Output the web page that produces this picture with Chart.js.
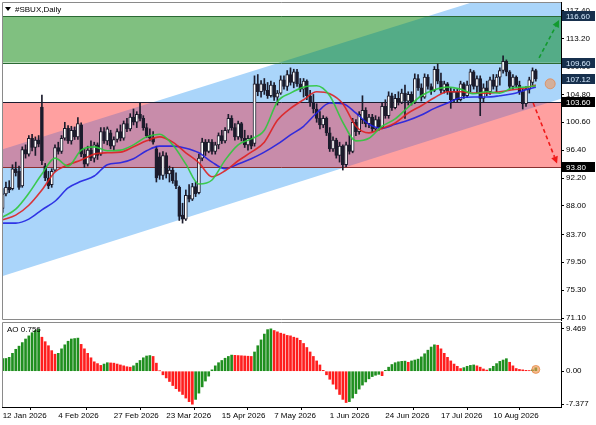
<!DOCTYPE html>
<html><head><meta charset="utf-8">
<script src="https://cdn.jsdelivr.net/npm/chart.js@4/dist/chart.umd.min.js"></script>
<style>
html,body{margin:0;padding:0;background:#fff;}
body{width:596px;height:425px;overflow:hidden;position:relative;}
canvas{position:absolute;left:0;}
</style></head>
<body>
<canvas id="main" width="596" height="322" style="top:0;width:596px;height:322px"></canvas>
<canvas id="ao" width="596" height="104" style="top:321px;width:596px;height:104px"></canvas>
<script>
// ---------- data ----------
const symbolTitle = '#SBUX,Daily';
const dateTickIdx = [0,17,34,50,67,83,100,117,134,150];
const dateTickLabels = ['12 Jan 2026','4 Feb 2026','27 Feb 2026','23 Mar 2026','15 Apr 2026','7 May 2026','1 Jun 2026','24 Jun 2026','17 Jul 2026','10 Aug 2026'];
const priceTicks = [117.40,113.20,109.00,104.80,100.60,96.40,92.20,88.00,83.70,79.50,75.30,71.10];
const aoTicks = [9.469, 0, -7.377];
const aoLabel = 'AO 0.756';

const openP = [87.6,89.8,90.8,90.6,93.6,93.2,91.0,96.5,95.8,98.2,96.8,97.9,102.9,94.0,92.2,91.2,93.4,96.8,96.2,98.2,
99.7,97.8,99.4,98.4,100.2,95.8,94.3,96.4,95.2,97.2,95.8,99.2,97.8,99.0,97.0,98.0,99.2,98.2,100.4,99.6,
101.4,100.6,101.8,101.2,99.8,98.6,98.2,96.6,95.4,92.6,95.6,92.8,93.4,91.8,90.8,86.6,86.0,89.6,89.0,90.9,
90.0,95.2,97.6,96.2,97.6,96.2,97.2,98.6,97.8,99.4,101.2,99.8,98.4,100.4,98.2,97.2,98.2,97.4,106.4,105.2,
106.4,105.4,104.6,106.2,104.4,105.0,107.0,106.0,107.8,106.6,108.2,106.4,105.6,106.8,104.6,103.6,102.6,101.2,100.2,101.2,
99.0,96.6,97.9,95.6,97.0,94.2,97.2,96.2,100.6,99.2,101.0,102.4,100.4,101.4,99.6,101.0,99.8,103.0,101.6,104.6,
102.8,104.2,103.6,105.0,103.8,104.8,103.6,107.2,105.8,104.4,107.4,106.0,105.4,108.6,106.8,105.4,106.4,105.2,104.0,105.2,
104.0,106.4,104.6,106.2,108.2,106.0,107.2,104.2,105.8,105.2,107.0,106.0,107.4,108.4,109.8,108.2,106.0,107.4,106.2,105.2,
103.4,105.6,106.6,108.4];
const highP = [90.6,91.6,91.8,94.2,94.6,94.0,96.9,97.2,98.6,98.8,98.4,98.6,104.7,94.4,93.2,93.6,97.2,97.6,98.6,100.6,
100.1,100.0,99.9,101.3,100.5,96.6,97.0,97.8,97.6,97.5,99.8,99.8,99.9,99.4,98.4,99.6,100.2,100.8,101.2,101.9,
102.6,102.2,103.6,101.6,100.4,99.6,99.2,97.0,96.0,96.2,96.0,94.0,93.8,93.0,91.0,88.4,90.4,91.2,91.4,91.6,
95.8,98.2,98.0,98.0,98.0,97.6,99.0,99.4,99.8,101.8,101.6,100.4,100.8,100.6,99.4,98.6,98.6,107.6,107.8,106.9,
107.2,106.6,106.8,106.6,105.4,107.6,107.6,108.4,108.8,108.6,108.6,107.2,107.2,107.0,105.4,104.8,103.4,102.2,101.6,101.4,
99.8,98.4,98.2,97.6,97.2,97.6,98.6,101.2,101.0,102.2,104.6,102.8,101.8,101.8,101.6,101.4,103.6,104.0,105.2,105.0,
104.8,105.2,105.6,106.2,105.2,105.2,107.9,107.8,106.4,107.9,107.8,106.4,109.0,109.4,108.0,106.8,106.6,105.8,105.6,105.6,
106.8,106.6,106.8,108.6,108.4,107.6,107.6,106.4,106.8,107.4,107.8,107.8,108.8,110.6,110.0,108.4,107.8,107.6,106.8,105.6,
106.0,107.4,108.8,108.6];
const lowP = [87.0,89.5,90.0,90.4,92.5,90.5,90.8,95.2,95.5,96.3,95.6,96.9,94.2,91.8,90.6,90.8,93.2,95.8,95.9,97.9,
97.4,97.3,98.0,98.0,95.4,93.8,94.0,94.8,94.6,95.0,95.6,97.4,97.2,96.6,96.4,97.6,97.8,97.9,99.2,99.3,
100.2,99.8,100.8,99.4,98.3,97.8,97.3,91.6,92.0,92.0,92.2,91.6,91.4,90.6,85.8,85.4,85.8,88.6,88.8,89.4,
89.8,94.8,95.6,96.0,95.8,95.8,96.6,97.4,97.5,99.0,99.4,97.9,98.0,97.8,96.8,96.4,96.6,97.0,104.6,104.4,
104.8,104.2,104.4,103.9,103.2,104.8,105.6,105.4,106.2,105.8,106.0,105.2,104.4,104.0,103.0,102.0,100.6,99.6,99.8,98.6,
96.2,96.2,95.2,94.6,93.4,93.9,95.8,96.0,98.6,98.8,100.4,99.9,99.8,99.2,99.4,99.4,99.6,101.2,101.2,102.4,
102.6,103.2,103.4,101.2,103.2,103.2,103.4,105.4,103.8,104.2,105.6,104.8,105.2,106.4,105.0,105.0,104.8,102.7,103.6,103.6,
103.8,104.2,104.4,105.2,105.6,105.0,101.6,103.6,104.6,104.8,105.6,105.2,106.2,108.0,107.6,105.6,105.6,105.8,104.8,102.6,
103.0,105.0,106.2,106.8];
const closeP = [89.8,90.8,90.4,93.6,93.0,90.8,96.5,95.8,98.2,96.8,97.9,97.3,94.8,92.2,91.0,93.2,96.8,96.2,98.2,99.7,
97.8,99.4,98.4,100.4,95.8,94.3,96.4,95.2,97.2,95.6,99.2,97.8,99.6,97.0,98.0,99.2,98.2,100.4,99.6,101.4,
100.6,101.8,101.2,99.8,98.6,98.2,97.6,92.2,92.6,95.6,92.8,93.4,91.8,91.0,86.4,86.0,89.6,89.0,90.9,89.8,
95.2,97.6,96.2,97.6,96.2,97.2,98.6,97.8,99.4,101.2,99.8,98.4,100.4,98.2,97.2,98.2,97.0,106.4,105.2,106.4,
105.4,104.6,106.2,104.4,105.0,107.0,106.0,107.8,106.6,108.2,106.4,105.6,106.8,104.6,103.6,102.6,101.2,100.2,101.2,99.0,
96.6,97.9,95.6,97.0,94.2,97.2,96.2,100.6,99.2,101.8,102.4,100.4,101.4,99.6,101.0,99.8,103.0,101.6,104.6,102.8,
104.2,103.6,105.0,103.8,104.8,103.6,107.2,105.8,104.4,107.4,106.0,105.4,108.6,106.8,105.4,106.4,105.2,104.0,105.2,104.0,
106.4,104.6,106.2,108.2,106.0,107.2,104.2,105.8,105.2,107.0,106.0,107.4,108.4,109.8,108.2,106.0,107.4,106.2,105.2,103.4,
105.6,107.0,108.4,107.12];

const maIdx = [0,4,8,12,16,20,24,28,32,36,40,44,48,52,56,60,64,68,72,76,80,84,88,92,96,100,104,108,112,116,120,124,128,132,136,140,144,148,152,156,160,163];
const maFast = [86.3,87.5,89.9,92.8,95.2,94.0,96.4,96.9,96.3,96.4,97.2,98.4,98.8,97.2,94.3,91.3,91.9,94.9,97.2,98.1,99.4,103.7,105.0,105.9,106.1,104.6,100.6,97.8,98.2,100.0,101.1,102.9,104.6,105.5,105.9,105.6,104.9,105.2,105.0,105.8,105.9,106.1];
const maMid = [85.9,86.6,88.1,90.4,93.1,94.2,94.9,95.8,96.0,96.1,96.9,97.8,98.4,97.6,96.0,94.5,92.4,93.3,94.8,96.1,97.6,100.9,102.7,104.0,105.2,104.9,103.4,100.0,99.0,99.7,100.5,102.0,103.1,104.3,105.2,105.2,105.0,105.0,105.2,105.5,105.8,106.2];
const maSlow = [85.4,85.4,86.0,87.4,88.7,90.7,91.7,92.5,94.2,94.5,95.1,96.3,97.0,97.0,96.7,96.0,94.6,93.6,94.3,95.1,96.1,97.3,98.7,100.0,102.0,103.5,103.4,102.0,100.3,99.7,100.3,100.9,101.7,102.7,103.5,104.3,104.4,104.4,104.6,104.9,105.5,105.9];

const aoValues = [2.8,2.85,3.1,4.0,4.9,5.6,6.4,7.2,7.9,8.6,9.1,9.35,7.6,6.6,5.7,4.6,3.8,4.0,5.0,5.9,
6.7,7.2,7.3,7.4,6.0,5.0,4.0,3.0,2.1,1.7,1.3,1.6,1.9,1.85,1.8,1.6,1.4,1.2,1.0,0.9,
1.2,1.8,2.4,3.0,3.4,3.5,3.3,1.8,0.1,-0.8,-1.5,-2.3,-3.2,-3.9,-4.5,-5.2,-6.0,-6.8,-7.377,-6.3,
-4.9,-3.5,-2.2,-1.1,0.3,1.2,1.9,2.4,2.9,3.3,3.6,3.55,3.5,3.45,3.4,3.35,3.3,4.3,5.7,7.0,
8.3,9.3,9.469,9.1,8.8,8.5,8.3,8.0,7.9,7.6,7.4,6.9,6.2,5.3,4.3,3.3,2.3,1.4,0.2,-0.8,
-1.8,-2.9,-4.0,-5.2,-6.3,-7.0,-6.8,-6.0,-5.0,-4.0,-3.1,-2.4,-1.7,-1.2,-0.9,-0.7,-1.0,0.2,0.9,1.5,
1.9,2.1,2.2,2.25,2.0,2.3,2.5,2.7,3.2,3.9,4.7,5.4,5.9,5.8,5.0,4.0,3.1,2.3,1.6,1.1,
0.6,0.8,1.1,1.3,1.4,1.2,0.9,0.5,0.25,0.6,1.1,1.7,2.2,2.5,2.8,2.0,1.2,0.6,0.4,0.3,
0.2,0.15,0.3,0.756];

const zoneBuy = [109.60, 116.60];
const zoneSell = [93.80, 103.60];
const channelIdx = [-1, 172];
const channelUpper = [96.39, 123.07];
const channelLower = [77.25, 104.36];
const arrowUp = [164.0, 110.3, 170.1, 116.0];
const arrowDown = [162.2, 103.5, 169.5, 94.4];
const priceTags = [116.60, 109.60, 107.12, 103.60, 93.80];
const lastMarker = [167.4, 106.4];
const aoMarker = [163, 0.4];

// ---------- styling ----------
const FONT = '"Liberation Sans", Arial, sans-serif';
const X_MIN = -0.2, X_MAX = 170.7;
const COL = {
  channel: 'rgb(170,213,250)',
  buy: 'rgb(128,192,128)', buyOver: 'rgb(84,172,135)',
  sell: 'rgb(255,160,160)', sellOver: 'rgb(200,140,170)',
  buyLine: '#2b6a34', sellTop: '#1c1c30', sellBot: '#8a3030',
  candle: '#1c1c2c'
};
const tagStyle = [
  {bg:'#17304d', fg:'#d8ecff'}, {bg:'#17304d', fg:'#d8ecff'}, {bg:'#17304d', fg:'#d8ecff'},
  {bg:'#000000', fg:'#ffffff'}, {bg:'#000000', fg:'#ffffff'}
];
const TICK_FONT = {size: 8};

Chart.defaults.font.family = FONT;
Chart.defaults.font.size = 8;
Chart.defaults.color = '#000';

const bars = closeP.map((_, i) => i);
const noPad = s => { s.paddingTop = 0; s.paddingBottom = 0; s.paddingLeft = 0; s.paddingRight = 0; };

// ---------- plugins ----------
const zonesPlugin = {
  id: 'zones',
  beforeDatasetsDraw(chart) {
    const {ctx, chartArea: a, scales: {x, y}} = chart;
    const px = v => x.getPixelForValue(v), py = v => y.getPixelForValue(v);
    const w = a.right - a.left;
    const chPath = () => {
      ctx.beginPath();
      ctx.moveTo(px(channelIdx[0]), py(channelUpper[0]));
      ctx.lineTo(px(channelIdx[1]), py(channelUpper[1]));
      ctx.lineTo(px(channelIdx[1]), py(channelLower[1]));
      ctx.lineTo(px(channelIdx[0]), py(channelLower[0]));
      ctx.closePath();
    };
    ctx.save();
    ctx.beginPath(); ctx.rect(a.left, a.top, w, a.bottom - a.top); ctx.clip();
    chPath(); ctx.fillStyle = COL.channel; ctx.fill();
    const zones = [
      {z: zoneBuy, plain: COL.buy, over: COL.buyOver, top: COL.buyLine, bot: COL.buyLine},
      {z: zoneSell, plain: COL.sell, over: COL.sellOver, top: COL.sellTop, bot: COL.sellBot}
    ];
    zones.forEach(o => {
      const t = py(o.z[1]), b = py(o.z[0]);
      ctx.fillStyle = o.plain; ctx.fillRect(a.left, t, w, b - t);
      ctx.save();
      ctx.beginPath(); ctx.rect(a.left, t, w, b - t); ctx.clip();
      chPath(); ctx.fillStyle = o.over; ctx.fill();
      ctx.restore();
      ctx.lineWidth = 1;
      ctx.strokeStyle = o.top; ctx.beginPath(); ctx.moveTo(a.left, Math.round(t) + 0.5); ctx.lineTo(a.right, Math.round(t) + 0.5); ctx.stroke();
      ctx.strokeStyle = o.bot; ctx.beginPath(); ctx.moveTo(a.left, Math.round(b) + 0.5); ctx.lineTo(a.right, Math.round(b) + 0.5); ctx.stroke();
    });
    ctx.restore();
  }
};

function drawArrow(ctx, x1, y1, x2, y2, color) {
  const ang = Math.atan2(y2 - y1, x2 - x1);
  const L = 7, W = 3.5;
  const bx = x2 - L * Math.cos(ang), by = y2 - L * Math.sin(ang);
  ctx.save();
  ctx.strokeStyle = color; ctx.fillStyle = color; ctx.lineWidth = 1.6;
  ctx.setLineDash([4, 3]);
  ctx.beginPath(); ctx.moveTo(x1, y1); ctx.lineTo(bx, by); ctx.stroke();
  ctx.setLineDash([]);
  ctx.beginPath();
  ctx.moveTo(x2, y2);
  ctx.lineTo(bx + W * Math.sin(ang), by - W * Math.cos(ang));
  ctx.lineTo(bx - W * Math.sin(ang), by + W * Math.cos(ang));
  ctx.closePath(); ctx.fill();
  ctx.restore();
}

const overlayPlugin = {
  id: 'overlay',
  afterDatasetsDraw(chart) {
    const {ctx, chartArea: a, scales: {x, y}} = chart;
    const px = v => x.getPixelForValue(v), py = v => y.getPixelForValue(v);
    drawArrow(ctx, px(arrowUp[0]), py(arrowUp[1]), px(arrowUp[2]), py(arrowUp[3]), '#129a2e');
    drawArrow(ctx, px(arrowDown[0]), py(arrowDown[1]), px(arrowDown[2]), py(arrowDown[3]), '#f01818');
    ctx.save();
    ctx.strokeStyle = '#8a8a8a'; ctx.lineWidth = 1;
    ctx.beginPath();
    ctx.moveTo(a.right, a.top + 0.5); ctx.lineTo(a.left + 0.5, a.top + 0.5);
    ctx.lineTo(a.left + 0.5, a.bottom - 0.5); ctx.lineTo(a.right, a.bottom - 0.5);
    ctx.stroke();
    // title
    ctx.fillStyle = '#000';
    ctx.beginPath(); ctx.moveTo(5, 7); ctx.lineTo(11, 7); ctx.lineTo(8, 11); ctx.closePath(); ctx.fill();
    ctx.font = '8px ' + FONT; ctx.textBaseline = 'middle'; ctx.textAlign = 'left';
    ctx.fillText(symbolTitle, 15, 9.5);
    ctx.restore();
  },
  afterDraw(chart) {
    const {ctx, chartArea: a, scales: {y}} = chart;
    ctx.save();
    ctx.font = '8px ' + FONT; ctx.textBaseline = 'middle'; ctx.textAlign = 'left';
    priceTags.forEach((v, k) => {
      const yy = Math.round(y.getPixelForValue(v));
      ctx.fillStyle = tagStyle[k].bg;
      ctx.fillRect(a.right + 1, yy - 5, 33, 10);
      ctx.fillStyle = tagStyle[k].fg;
      ctx.fillText(v.toFixed(2), a.right + 5, yy + 0.5);
    });
    ctx.restore();
  }
};

const aoOverlay = {
  id: 'aoOverlay',
  afterDatasetsDraw(chart) {
    const {ctx, chartArea: a} = chart;
    ctx.save();
    ctx.strokeStyle = '#8a8a8a'; ctx.lineWidth = 1;
    ctx.beginPath();
    ctx.moveTo(a.right, a.top + 0.5); ctx.lineTo(a.left + 0.5, a.top + 0.5); ctx.lineTo(a.left + 0.5, a.bottom);
    ctx.stroke();
    ctx.fillStyle = '#000';
    ctx.font = '8px ' + FONT; ctx.textBaseline = 'middle'; ctx.textAlign = 'left';
    ctx.fillText(aoLabel, 7, a.top + 8);
    ctx.restore();
  }
};

// ---------- main chart ----------
const wickData = bars.map(i => ({x: i, y: [lowP[i], highP[i]]}));
const bodyData = bars.map(i => ({x: i, y: [openP[i], closeP[i]]}));
const bodyColors = bars.map(i => closeP[i] >= openP[i] ? '#ffffff' : COL.candle);
const maLine = (vals, color) => ({
  type: 'line', data: maIdx.map((xv, k) => ({x: xv, y: vals[k]})),
  borderColor: color, borderWidth: 1.6, pointRadius: 0, cubicInterpolationMode: 'monotone', order: 0
});

new Chart(document.getElementById('main'), {
  type: 'bar',
  data: {
    datasets: [
      {type: 'line', data: [{x: lastMarker[0], y: lastMarker[1]}], showLine: false,
       pointRadius: 5, pointBackgroundColor: 'rgba(240,150,90,0.6)', pointBorderColor: 'rgba(230,130,70,0.7)', pointBorderWidth: 1, order: -1},
      maLine(maFast, 'rgba(45,200,60,0.9)'),
      maLine(maMid, 'rgba(222,30,30,0.88)'),
      maLine(maSlow, 'rgba(30,30,225,0.88)'),
      {data: bodyData, backgroundColor: bodyColors, borderColor: COL.candle, borderWidth: 1, borderSkipped: false,
       barThickness: 3, grouped: false, order: 1},
      {data: wickData, backgroundColor: COL.candle, borderWidth: 0, barThickness: 1, grouped: false, order: 2}
    ]
  },
  options: {
    responsive: false, animation: false, events: [],
    layout: {autoPadding: false, padding: {left: 2, top: 2, right: 0, bottom: 2}},
    plugins: {legend: {display: false}, tooltip: {enabled: false}},
    scales: {
      x: {type: 'linear', min: X_MIN, max: X_MAX, offset: false, display: false},
      y: {
        position: 'right', min: 70.80, max: 118.73,
        afterBuildTicks(s) { s.ticks = priceTicks.map(v => ({value: v})); },
        afterFit(s) { s.width = 35; noPad(s); },
        ticks: {autoSkip: false, padding: 2, callback: v => Number(v).toFixed(2), font: TICK_FONT},
        grid: {display: true, drawOnChartArea: false, drawTicks: true, tickLength: 3, color: '#000'},
        border: {display: true, color: '#000'}
      }
    }
  },
  plugins: [zonesPlugin, overlayPlugin]
});

// ---------- AO chart ----------
const aoColors = aoValues.map((v, i) => (i === 0 || v > aoValues[i - 1]) ? '#1f8f1f' : '#ff1e1e');
new Chart(document.getElementById('ao'), {
  type: 'bar',
  data: {
    datasets: [
      {type: 'line', data: [{x: aoMarker[0], y: aoMarker[1]}], showLine: false,
       pointRadius: 4, pointBackgroundColor: 'rgba(240,150,80,0.65)', pointBorderColor: 'rgba(230,130,60,0.7)', pointBorderWidth: 1, order: -1},
      {data: bars.map(i => ({x: i, y: aoValues[i]})), backgroundColor: aoColors, borderWidth: 0,
       barThickness: 2, grouped: false, order: 1}
    ]
  },
  options: {
    responsive: false, animation: false, events: [],
    layout: {autoPadding: false, padding: {left: 2, top: 1, right: 0, bottom: 0}},
    plugins: {legend: {display: false}, tooltip: {enabled: false}},
    scales: {
      x: {
        type: 'linear', min: X_MIN, max: X_MAX, offset: false, position: 'bottom',
        afterBuildTicks(s) { s.ticks = dateTickIdx.map(v => ({value: v})); },
        afterFit(s) { s.height = 18; noPad(s); },
        ticks: {autoSkip: false, maxRotation: 0, align: 'start', padding: 1,
          callback: v => dateTickLabels[dateTickIdx.indexOf(v)], font: {size: 8}},
        grid: {display: true, drawOnChartArea: false, drawTicks: true, tickLength: 3, color: '#000'},
        border: {display: true, color: '#000'}
      },
      y: {
        position: 'right', min: -8.0, max: 11.0,
        afterBuildTicks(s) { s.ticks = aoTicks.map(v => ({value: v})); },
        afterFit(s) { s.width = 35; noPad(s); },
        ticks: {autoSkip: false, padding: 2, font: TICK_FONT,
          callback: v => v === 0 ? '0.00' : String(v)},
        grid: {display: true, drawOnChartArea: false, drawTicks: true, tickLength: 3, color: '#000'},
        border: {display: true, color: '#000'}
      }
    }
  },
  plugins: [aoOverlay]
});
</script>
</body></html>
